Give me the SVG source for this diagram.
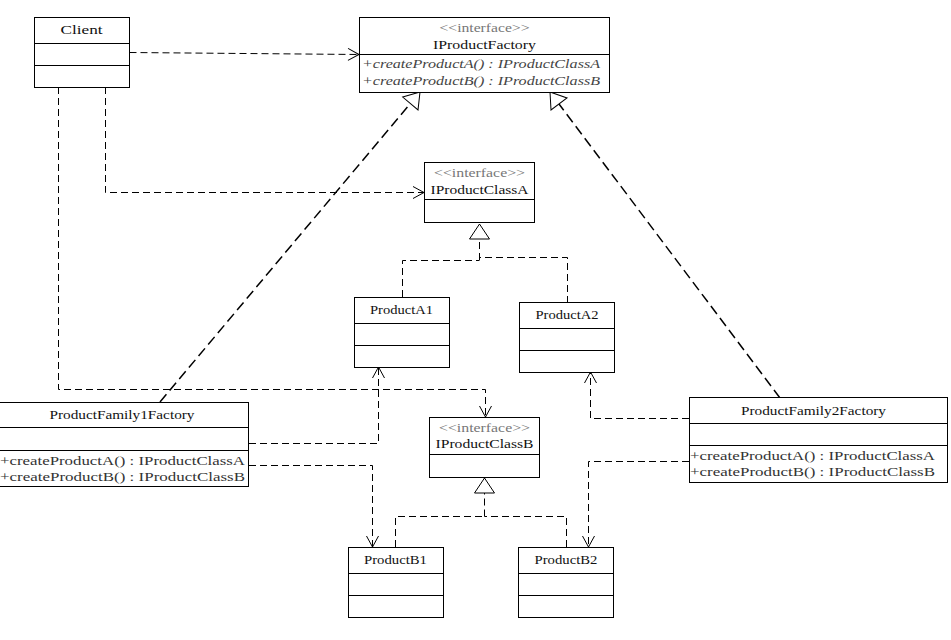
<svg xmlns="http://www.w3.org/2000/svg" width="951" height="640" viewBox="0 0 951 640">
<style>
.box{fill:#fff;stroke:#000;stroke-width:1}
.div{stroke:#000;stroke-width:1}
.t{font-family:"Liberation Serif","DejaVu Serif",serif;font-size:13.5px;fill:#111}
.c{text-anchor:middle}
.st{fill:#777}
.it{font-style:italic;fill:#444}
.m{fill:#333}
.con path{fill:none;stroke:#000;stroke-width:1;stroke-dasharray:7,4}
.con path.diag{stroke-width:1.5;stroke-dasharray:10,5}
</style>
<defs>
<marker id="open" markerUnits="userSpaceOnUse" markerWidth="14" markerHeight="14" viewBox="-12 -7 14 14" refX="0" refY="0" orient="auto">
<path d="M-11,-6 L0,0 L-11,6" fill="none" stroke="#000" stroke-width="1"/>
</marker>
<marker id="tri" markerUnits="userSpaceOnUse" markerWidth="20" markerHeight="24" viewBox="-17 -12 20 24" refX="0" refY="0" orient="auto">
<path d="M0,0 L-15,-10 L-15,10 Z" fill="#fff" stroke="#000" stroke-width="1"/>
</marker>
</defs>
<rect width="951" height="640" fill="#fff"/>
<g class="con" id="connectors">
<path d="M129.5,52.5 L359,54.5" marker-end="url(#open)"/>
<path d="M105.5,87 V192.5 H424" marker-end="url(#open)"/>
<path d="M58.5,87 V389.5 H485.5 V417" marker-end="url(#open)"/>
<path d="M402.5,297 V260.5 H479.5"/>
<path d="M567.5,303 V257.5 H479.5"/>
<path d="M479.5,260 V224" marker-end="url(#tri)"/>
<path d="M395.5,547 V516.5 H484.5"/>
<path d="M566.5,547 V516.5 H484.5"/>
<path d="M484.5,516.5 V478" marker-end="url(#tri)"/>
<path class="diag" d="M160,402 L420,92" marker-end="url(#tri)"/>
<path class="diag" d="M780,398 L550,92" marker-end="url(#tri)"/>
<path d="M249,443.5 H378.5 V367" marker-end="url(#open)"/>
<path d="M249,465.5 H372.5 V547" marker-end="url(#open)"/>
<path d="M689,418.5 H590.5 V372" marker-end="url(#open)"/>
<path d="M689,461.5 H588.5 V547" marker-end="url(#open)"/>
</g>
<g id="Client">
<rect class="box" x="34.5" y="17.5" width="95" height="70"/>
<path class="div" d="M34.5,43.5 H129.5 M34.5,65.5 H129.5"/>
<text class="t c" x="81.5" y="33.5" textLength="42" lengthAdjust="spacingAndGlyphs">Client</text>
</g>
<g id="IProductFactory">
<rect class="box" x="359.5" y="17.5" width="250" height="75"/>
<path class="div" d="M359.5,54.5 H609.5"/>
<text class="t c st" x="484.5" y="32" textLength="90" lengthAdjust="spacingAndGlyphs">&lt;&lt;interface&gt;&gt;</text>
<text class="t c" x="484.5" y="48.5" textLength="103" lengthAdjust="spacingAndGlyphs">IProductFactory</text>
<text class="t it" x="362" y="67.5" textLength="238" lengthAdjust="spacingAndGlyphs">+createProductA() : IProductClassA</text>
<text class="t it" x="362" y="85" textLength="238" lengthAdjust="spacingAndGlyphs">+createProductB() : IProductClassB</text>
</g>
<g id="IProductClassA">
<rect class="box" x="424.5" y="162.5" width="110" height="60"/>
<path class="div" d="M424.5,199.5 H534.5"/>
<text class="t c st" x="479.5" y="177" textLength="91" lengthAdjust="spacingAndGlyphs">&lt;&lt;interface&gt;&gt;</text>
<text class="t c" x="479.5" y="193.5" textLength="98" lengthAdjust="spacingAndGlyphs">IProductClassA</text>
</g>
<g id="ProductA1">
<rect class="box" x="354.5" y="297.5" width="95" height="70"/>
<path class="div" d="M354.5,323.5 H449.5 M354.5,345.5 H449.5"/>
<text class="t c" x="401.5" y="314" textLength="63" lengthAdjust="spacingAndGlyphs">ProductA1</text>
</g>
<g id="ProductA2">
<rect class="box" x="519.5" y="302.5" width="95" height="70"/>
<path class="div" d="M519.5,328.5 H614.5 M519.5,350.5 H614.5"/>
<text class="t c" x="567" y="319" textLength="63" lengthAdjust="spacingAndGlyphs">ProductA2</text>
</g>
<g id="ProductFamily1Factory">
<rect class="box" x="-0.5" y="402.5" width="249" height="84"/>
<path class="div" d="M-0.5,427.5 H248.5 M-0.5,450.5 H248.5"/>
<text class="t c" x="122" y="419" textLength="145" lengthAdjust="spacingAndGlyphs">ProductFamily1Factory</text>
<text class="t m" x="0" y="464.5" textLength="245" lengthAdjust="spacingAndGlyphs">+createProductA() : IProductClassA</text>
<text class="t m" x="0" y="481" textLength="245" lengthAdjust="spacingAndGlyphs">+createProductB() : IProductClassB</text>
</g>
<g id="ProductFamily2Factory">
<rect class="box" x="689.5" y="397.5" width="258" height="85"/>
<path class="div" d="M689.5,423.5 H947.5 M689.5,445.5 H947.5"/>
<text class="t c" x="813.5" y="414.5" textLength="145" lengthAdjust="spacingAndGlyphs">ProductFamily2Factory</text>
<text class="t m" x="690" y="460" textLength="245" lengthAdjust="spacingAndGlyphs">+createProductA() : IProductClassA</text>
<text class="t m" x="690" y="476" textLength="245" lengthAdjust="spacingAndGlyphs">+createProductB() : IProductClassB</text>
</g>
<g id="IProductClassB">
<rect class="box" x="429.5" y="417.5" width="110" height="60"/>
<path class="div" d="M429.5,454.5 H539.5"/>
<text class="t c st" x="484.5" y="432" textLength="91" lengthAdjust="spacingAndGlyphs">&lt;&lt;interface&gt;&gt;</text>
<text class="t c" x="484.5" y="448" textLength="98" lengthAdjust="spacingAndGlyphs">IProductClassB</text>
</g>
<g id="ProductB1">
<rect class="box" x="348.5" y="547.5" width="95" height="70"/>
<path class="div" d="M348.5,573.5 H443.5 M348.5,595.5 H443.5"/>
<text class="t c" x="395.5" y="564" textLength="63" lengthAdjust="spacingAndGlyphs">ProductB1</text>
</g>
<g id="ProductB2">
<rect class="box" x="518.5" y="547.5" width="95" height="70"/>
<path class="div" d="M518.5,573.5 H613.5 M518.5,595.5 H613.5"/>
<text class="t c" x="566" y="564" textLength="63" lengthAdjust="spacingAndGlyphs">ProductB2</text>
</g>
</svg>
